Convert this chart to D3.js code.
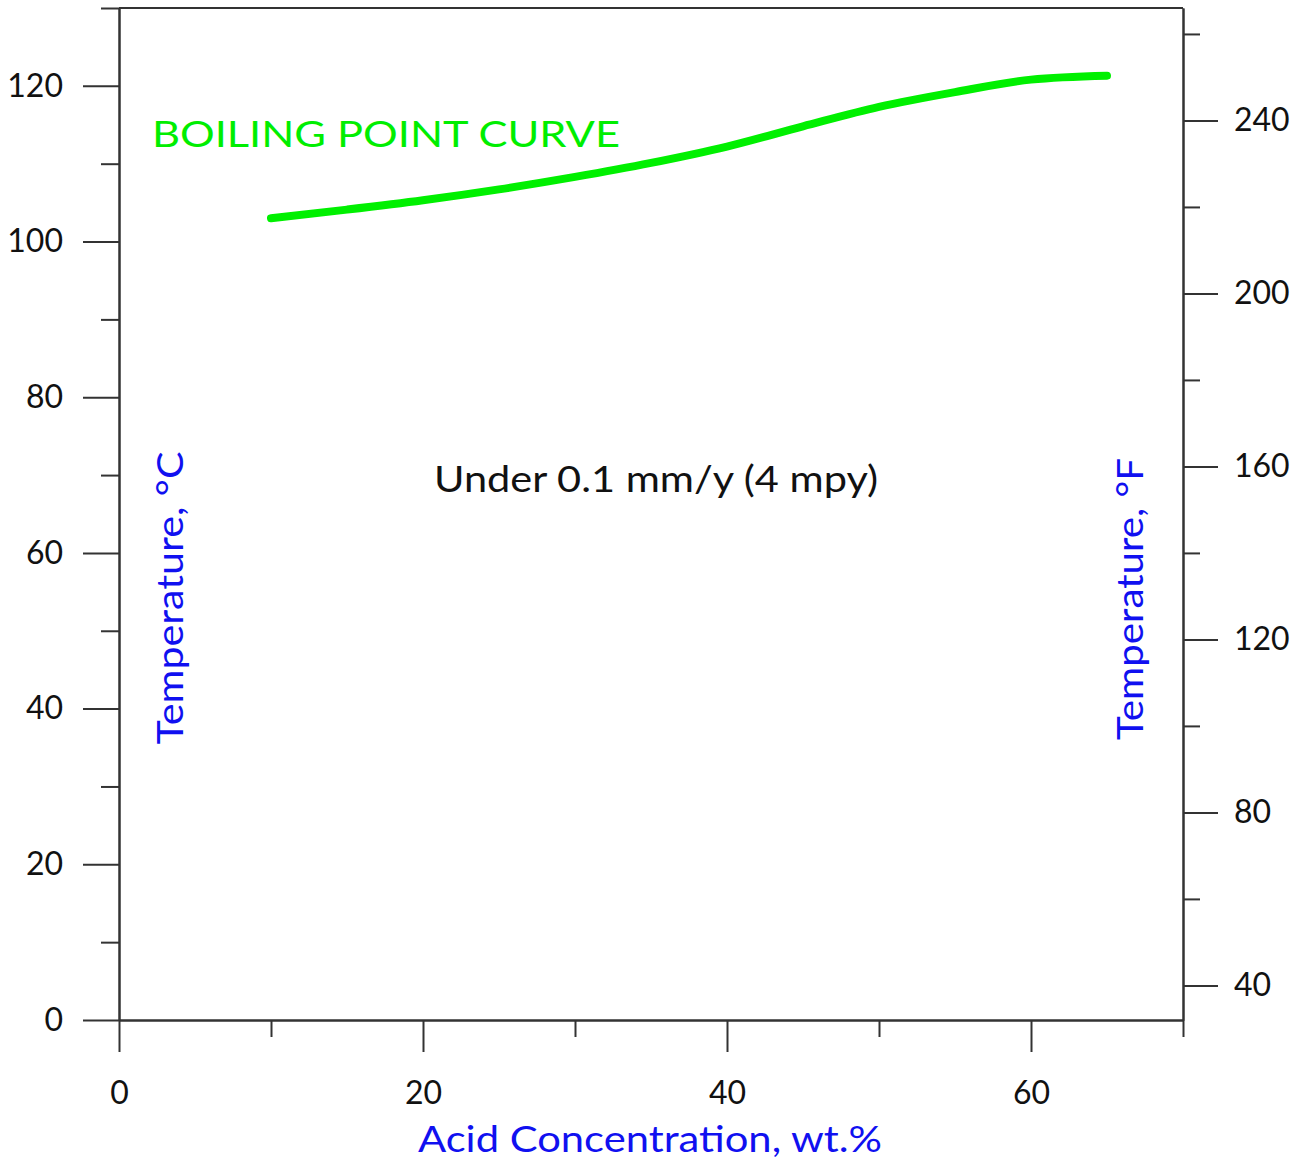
<!DOCTYPE html>
<html>
<head>
<meta charset="utf-8">
<script src="https://cdn.jsdelivr.net/npm/d3@7"></script>
<style>
  body { margin: 0; background: #fff; }
  svg { font-family: Lato, 'Open Sans', sans-serif; }
  .axis path, .axis line { stroke: #333; stroke-width: 2; }
  .axis text { fill: #111; font-size: 32px; font-family: Lato, sans-serif; }
</style>
</head>
<body>
<svg width="1307" height="1160"></svg>
<script>
'use strict';

// data
var concentration = [10, 15, 20, 25, 30, 35, 40, 45, 50, 55, 60, 65];
var boilingPoint = [103.0, 104.1, 105.3, 106.7, 108.3, 110.1, 112.2, 114.8, 117.3, 119.2, 120.8, 121.3];

var xMajor = [0, 20, 40, 60],
    xMinor = [10, 30, 50, 70];
var cMajor = [0, 20, 40, 60, 80, 100, 120],
    cMinor = [10, 30, 50, 70, 90, 110, 130];
var fMajor = [40, 80, 120, 160, 200, 240],
    fMinor = [60, 100, 140, 180, 220, 260];

var svg = d3.select('svg');
var plotLeft = 119, plotRight = 1183, plotTop = 8, plotBottom = 1020;

var x = d3.scaleLinear().domain([0, 70]).range([plotLeft, plotRight]);
var y = d3.scaleLinear().domain([0, 130]).range([plotBottom, plotTop]);
var yF = d3.scaleLinear().domain([32, 130 * 1.8 + 32]).range([plotBottom, plotTop]);

// bottom axis
svg.append('g').attr('class', 'axis')
    .attr('transform', 'translate(0,' + plotBottom + ')')
    .call(d3.axisBottom(x).tickValues(xMinor).tickSize(17).tickSizeOuter(0).tickFormat(''));
svg.append('g').attr('class', 'axis')
    .attr('transform', 'translate(0,' + plotBottom + ')')
    .call(d3.axisBottom(x).tickValues(xMajor).tickSize(32).tickSizeOuter(0).tickPadding(29));

// left axis (°C)
svg.append('g').attr('class', 'axis')
    .attr('transform', 'translate(' + plotLeft + ',0)')
    .call(d3.axisLeft(y).tickValues(cMinor).tickSize(18).tickSizeOuter(0).tickFormat(''));
svg.append('g').attr('class', 'axis')
    .attr('transform', 'translate(' + plotLeft + ',0)')
    .call(d3.axisLeft(y).tickValues(cMajor).tickSize(36).tickSizeOuter(0).tickPadding(20));

// right axis (°F)
svg.append('g').attr('class', 'axis')
    .attr('transform', 'translate(' + plotRight + ',0)')
    .call(d3.axisRight(yF).tickValues(fMinor).tickSize(17).tickSizeOuter(0).tickFormat(''));
svg.append('g').attr('class', 'axis')
    .attr('transform', 'translate(' + plotRight + ',0)')
    .call(d3.axisRight(yF).tickValues(fMajor).tickSize(35).tickSizeOuter(0).tickPadding(16));

// top border
svg.append('line')
    .attr('x1', plotLeft).attr('x2', plotRight)
    .attr('y1', y(130)).attr('y2', y(130))
    .attr('stroke', '#333').attr('stroke-width', 2);

// boiling point curve
var line = d3.line()
    .x(function(d, i) { return x(concentration[i]); })
    .y(function(d) { return y(d); })
    .curve(d3.curveMonotoneX);

svg.append('path')
    .datum(boilingPoint)
    .attr('d', line)
    .attr('fill', 'none')
    .attr('stroke', '#00f000')
    .attr('stroke-width', 8)
    .attr('stroke-linecap', 'round')
    .attr('stroke-linejoin', 'round');

// annotations (stretched a bit, the original face is wider)
svg.append('text')
    .attr('x', 152).attr('y', 147)
    .attr('fill', '#00ee00')
    .attr('textLength', 468).attr('lengthAdjust', 'spacingAndGlyphs')
    .style('font-size', '37px')
    .text('BOILING POINT CURVE');

svg.append('text')
    .attr('x', 656).attr('y', 492)
    .attr('text-anchor', 'middle')
    .attr('fill', '#111')
    .attr('textLength', 444).attr('lengthAdjust', 'spacingAndGlyphs')
    .style('font-size', '37px')
    .text('Under 0.1 mm/y (4 mpy)');

// axis titles
svg.append('text')
    .attr('transform', 'translate(650,1152)')
    .attr('text-anchor', 'middle')
    .attr('fill', '#1010f0')
    .attr('textLength', 464).attr('lengthAdjust', 'spacingAndGlyphs')
    .style('font-size', '37px')
    .text('Acid Concentration, wt.%');

svg.append('text')
    .attr('transform', 'translate(183,598) rotate(-90)')
    .attr('text-anchor', 'middle')
    .attr('fill', '#1010f0')
    .attr('textLength', 293).attr('lengthAdjust', 'spacingAndGlyphs')
    .style('font-size', '37px')
    .text('Temperature, °C');

svg.append('text')
    .attr('transform', 'translate(1143,599) rotate(-90)')
    .attr('text-anchor', 'middle')
    .attr('fill', '#1010f0')
    .attr('textLength', 282).attr('lengthAdjust', 'spacingAndGlyphs')
    .style('font-size', '37px')
    .text('Temperature, °F');
</script>
</body>
</html>
